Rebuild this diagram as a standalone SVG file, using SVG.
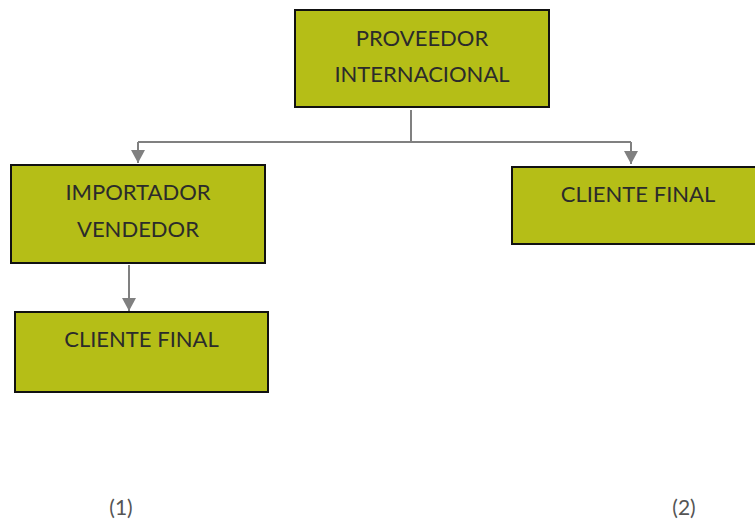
<svg xmlns="http://www.w3.org/2000/svg" width="755" height="522" viewBox="0 0 755 522">
<style>
.box{fill:#B5BE17;stroke:#111;stroke-width:2}
.t{font-family:Lato,"Liberation Sans",sans-serif;font-size:22px;fill:#2b2b2b;text-anchor:middle}
.n{font-family:Lato,"Liberation Sans",sans-serif;font-size:21px;fill:#555;text-anchor:middle}
.c{fill:none;stroke:#808080;stroke-width:2}
</style>
<defs>
<marker id="ah" markerWidth="13" markerHeight="14" refX="13" refY="7" orient="auto" markerUnits="userSpaceOnUse">
<path d="M0,0 L13,7 L0,14 Z" fill="#808080"/>
</marker>
</defs>
<rect width="755" height="522" fill="#fff"/>
<g id="connectors">
<path class="c" d="M411,110 V142"/>
<path class="c" d="M138,142 H631"/>
<path class="c" d="M138,142 V163" marker-end="url(#ah)"/>
<path class="c" d="M631,142 V164" marker-end="url(#ah)"/>
<path class="c" d="M129,265 V311" marker-end="url(#ah)"/>
</g>
<g id="proveedor">
<rect class="box" x="295" y="10" width="254" height="97"/>
<text class="t" x="422" y="46">PROVEEDOR</text>
<text class="t" x="422" y="82">INTERNACIONAL</text>
</g>
<g id="importador">
<rect class="box" x="11" y="165" width="254" height="98"/>
<text class="t" x="138" y="200">IMPORTADOR</text>
<text class="t" x="138" y="237">VENDEDOR</text>
</g>
<g id="cliente1">
<rect class="box" x="15" y="312" width="253" height="80"/>
<text class="t" x="141.5" y="347">CLIENTE FINAL</text>
</g>
<g id="cliente2">
<rect class="box" x="512" y="167" width="254" height="77"/>
<text class="t" x="638" y="202">CLIENTE FINAL</text>
</g>
<g id="labels">
<text class="n" x="121" y="515">(1)</text>
<text class="n" x="684" y="515">(2)</text>
</g>
</svg>
